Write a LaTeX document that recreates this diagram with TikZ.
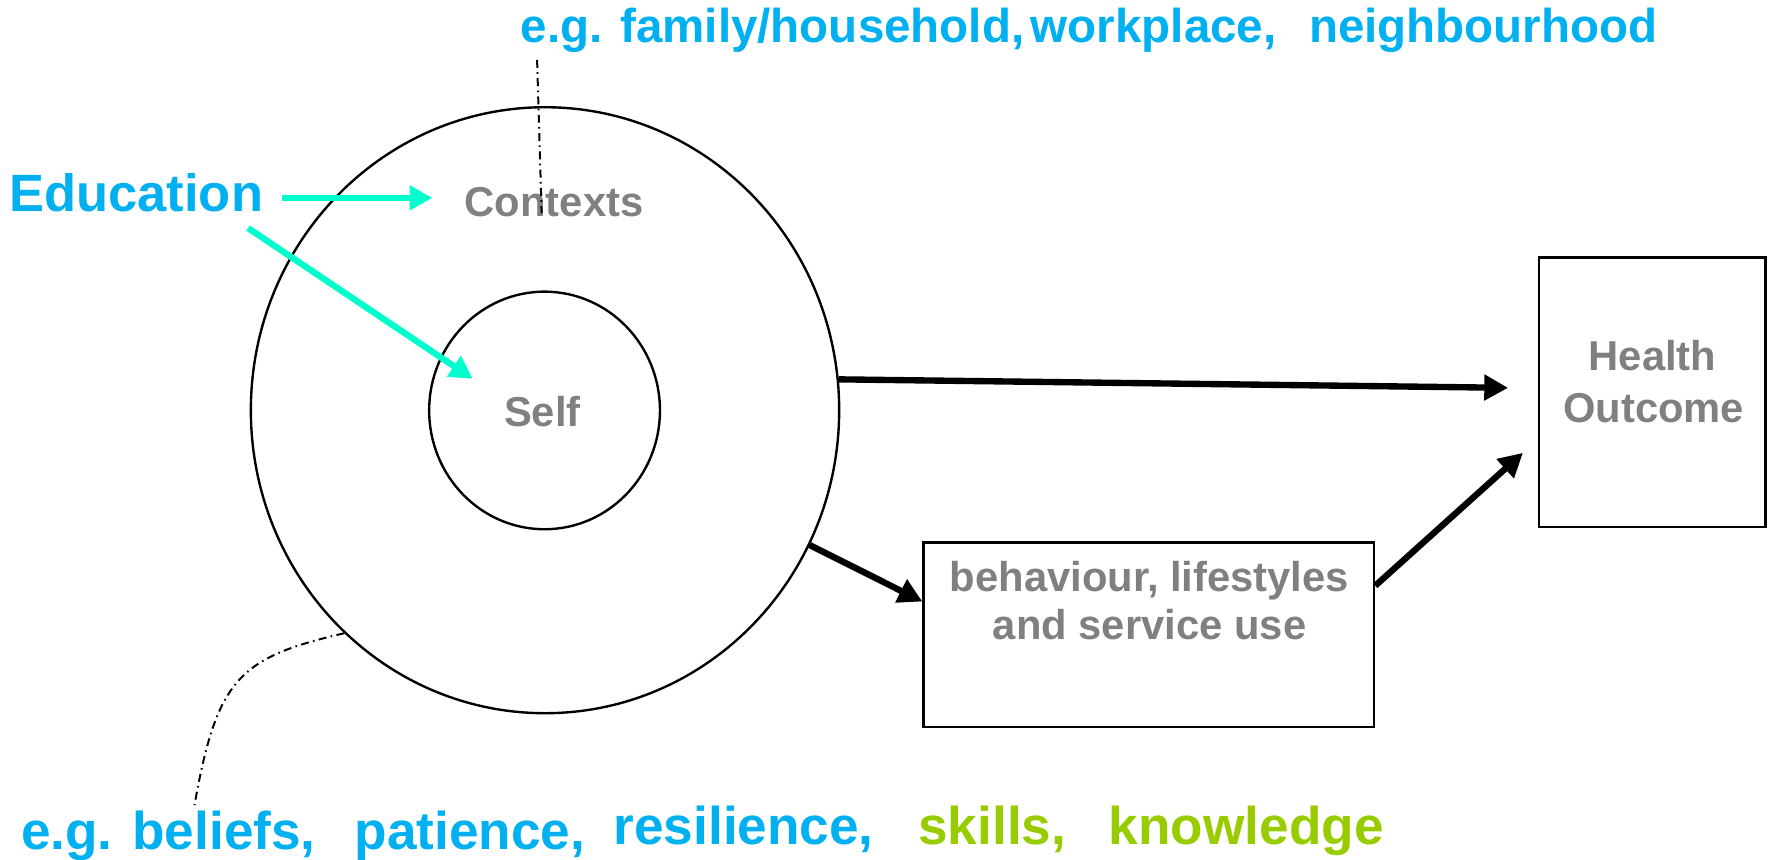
\documentclass[tikz,border=0pt]{standalone}
\usepackage{fontspec}
\setmainfont{Liberation Sans}
\usetikzlibrary{shapes.geometric,arrows.meta,calc}
\definecolor{eduBlue}{RGB}{0,176,240}
\definecolor{kGreen}{RGB}{153,204,0}
\definecolor{aqua}{RGB}{0,255,204}
\definecolor{lblGray}{RGB}{128,128,128}
\begin{document}
\begin{tikzpicture}[x=0.01cm,y=-0.01cm,
  ring/.style={draw=black, line width=0.6pt, ellipse, inner sep=0pt},
  box/.style={draw=black, line width=0.65pt, rectangle, inner sep=0pt},
  graytxt/.style={font=\fontsize{10.5}{12}\selectfont\bfseries, text=lblGray, inner sep=0pt, anchor=base},
  bluetxt/.style={font=\fontsize{13.37}{15}\selectfont\bfseries, text=eduBlue, inner sep=0pt, anchor=base west},
  greentxt/.style={bluetxt, text=kGreen},
  toptxt/.style={font=\fontsize{11.95}{14}\selectfont\bfseries, text=eduBlue, inner sep=0pt, anchor=base west},
  edutxt/.style={font=\fontsize{13.2}{15}\selectfont\bfseries, text=eduBlue, inner sep=0pt, anchor=base west},
  eduarrow/.style={draw=aqua, line width=1.6pt, -{Triangle[length=5.7pt,width=6pt]}},
  mainarrow/.style={draw=black, line width=1.6pt, -{Triangle[length=6pt,width=6.2pt]}},
  pointer/.style={draw=black, line width=0.5pt, dash pattern=on 2pt off 1.1pt on 0.4pt off 1.1pt}
]
\useasboundingbox (0,0) rectangle (1568,759.7);

% rings
\node[ring, minimum width=5.20cm, minimum height=5.356cm] (outer) at (482,362.8) {};
\node[ring, minimum width=2.04cm, minimum height=2.10cm] (inner) at (481.6,363) {};

% boxes
\node[box, minimum width=3.98cm, minimum height=1.63cm] (beh) at (1016,561.5) {};
\node[box, minimum width=2.005cm, minimum height=2.38cm] (health) at (1461.25,347) {};

% gray labels
\node[graytxt] (ctx) at (490,191.5) {Contexts};
\node[graytxt] (self) at (479.6,377.5) {Self};
\node[graytxt] (beh1) at (1016.5,523) {behaviour, lifestyles};
\node[graytxt] (beh2) at (1016.7,566) {and service use};
\node[graytxt] (h1) at (1461.5,328) {Health};
\node[graytxt] (h2) at (1462.5,373.5) {Outcome};

% Education
\node[edutxt] (edu) at (7.6,187) {Education};

% top label
\node[toptxt] (t1) at (460,38) {e.g. family/household,};
\node[toptxt] (t2) at (911,38) {workplace,};
\node[toptxt] (t3) at (1157,38) {neighbourhood};

% bottom labels
\node[bluetxt] (b1) at (18,751) {e.g. beliefs,};
\node[bluetxt] (b2) at (313,751) {patience,};
\node[bluetxt] (b3) at (542,747) {resilience,};
\node[greentxt] (b4) at (811.5,747) {skills,};
\node[greentxt] (b5) at (980,747) {knowledge};

% education arrows
\draw[eduarrow] ($(edu.base east)+(16,-12)$) -- ($(ctx.base west)+(-28,-16.5)$);
\draw[eduarrow] ($(edu.base east)+(-14,14.7)$) -- ($(self.base west)+(-27,-42.5)$);

% main arrows
\draw[mainarrow] (outer.6.5) -- ($(health.west)+(-26,-4)$);
\draw[mainarrow] (outer.-27) -- ($(beh.west)+(0,-29.5)$);
\draw[mainarrow] ($(beh.east)+(0,-43.5)$) -- ($(health.west)+(-13,53.5)$);

% pointers
\draw[pointer] ($(t1.base west)+(15,15)$) -- ($(ctx.base west)+(68.7,-2.9)$);
\draw[pointer] (outer.-132.5) .. controls +(-93,21.5) and +(20,-112) .. ($(b1.base west)+(154,-39)$);
\end{tikzpicture}
\end{document}
